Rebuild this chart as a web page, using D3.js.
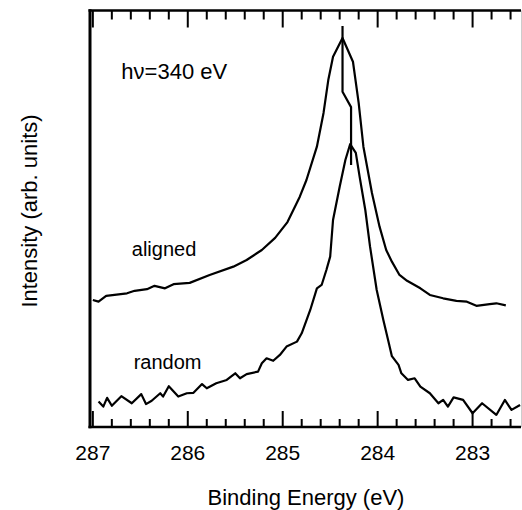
<!DOCTYPE html>
<html>
<head>
<meta charset="utf-8">
<script src="https://cdn.jsdelivr.net/npm/d3@7"></script>
<style>
  body { margin: 0; background: #fff; }
  svg { font-family: "Liberation Sans", Arial, Helvetica, sans-serif; }
</style>
</head>
<body>
<div id="chart"></div>
<script>
// DATA //
// binding energy (eV), intensity (arb. units, 0 = bottom axis, 100 = top axis)
const alignedEnergy = [287.00, 286.94, 286.86, 286.64, 286.56, 286.43, 286.35, 286.24, 286.15, 285.98,
    285.77, 285.52, 285.38, 285.22, 285.08, 284.95, 284.82, 284.75, 284.64, 284.57, 284.52, 284.47,
    284.37, 284.26, 284.20, 284.15, 284.06, 283.98, 283.91, 283.85, 283.77, 283.69, 283.55, 283.45,
    283.31, 283.17, 283.06, 282.96, 282.82, 282.75, 282.65]
const alignedIntensity = [30.5, 30.1, 31.5, 32.1, 32.7, 33.1, 33.9, 33.3, 34.3, 34.6,
    36.5, 38.5, 40.1, 42.5, 45.4, 49.2, 55.3, 59.3, 67.3, 75.4, 83.3, 88.9,
    93.4, 87.7, 77.8, 67.3, 56.2, 48.1, 42.5, 39.7, 36.5, 35.1, 33.3, 31.7,
    30.9, 30.3, 30.1, 29.1, 29.5, 29.7, 29.2]

const randomEnergy = [286.94, 286.89, 286.85, 286.80, 286.70, 286.59, 286.49, 286.44, 286.38, 286.29,
    286.26, 286.20, 286.10, 286.01, 285.94, 285.85, 285.80, 285.70, 285.59, 285.50, 285.45, 285.38,
    285.26, 285.22, 285.17, 285.10, 285.03, 284.96, 284.85, 284.80, 284.71, 284.64, 284.59, 284.54,
    284.50, 284.47, 284.40, 284.34, 284.29, 284.23, 284.19, 284.13, 284.08, 284.01, 283.94, 283.89,
    283.85, 283.78, 283.75, 283.68, 283.61, 283.55, 283.45, 283.36, 283.31, 283.26, 283.20, 283.10,
    283.00, 282.90, 282.75, 282.66, 282.59, 282.50]
const randomIntensity = [6.1, 4.9, 7.0, 5.1, 7.4, 5.7, 7.9, 5.5, 6.3, 8.1,
    7.3, 9.8, 7.3, 8.1, 8.2, 10.3, 9.3, 10.5, 11.3, 12.9, 11.7, 12.7,
    13.3, 15.3, 16.5, 15.9, 17.3, 19.3, 20.5, 22.5, 28.1, 33.3, 34.1, 37.7,
    40.9, 49.7, 57.7, 64.1, 67.9, 65.8, 60.1, 52.1, 43.3, 32.9, 25.7, 20.9,
    17.0, 14.9, 12.9, 11.3, 11.7, 9.7, 8.1, 5.7, 6.5, 4.9, 7.1, 6.5,
    3.3, 5.7, 2.9, 6.5, 4.1, 5.3]

// peak position marker (from aligned peak down to random peak)
const markerEnergy = [284.37, 284.37, 284.28, 284.28]
const markerIntensity = [96.3, 80.5, 76.8, 62.9]

const majorTicks = [287, 286, 285, 284, 283]
const minorTicks = [286.8, 286.6, 286.4, 286.2, 285.8, 285.6, 285.4, 285.2,
    284.8, 284.6, 284.4, 284.2, 283.8, 283.6, 283.4, 283.2, 282.8, 282.6]

const labels = [
    { text: "hν=340 eV", e: 286.7, i: 83.5, size: 22 },
    { text: "aligned", e: 286.59, i: 41.0, size: 20 },
    { text: "random", e: 286.57, i: 13.9, size: 20 },
]

// GLOBAL VARIABLES //
const width = 522
const height = 510

let dimensions = {
    width: width,
    height: height,
    margin: {
        top: 10.5,
        right: 1,
        bottom: 83,
        left: 90,
    },
}

// Create scales (svg coordinates)
const xScale = d3.scaleLinear()
    .domain([287.03, 282.49])
    .range([dimensions.margin.left, dimensions.width - dimensions.margin.right])

const yScale = d3.scaleLinear()
    .domain([0, 100])
    .range([dimensions.height - dimensions.margin.bottom, dimensions.margin.top])

const svg = d3.select("#chart")
    .append("svg")
    .attr("width", dimensions.width)
    .attr("height", dimensions.height)

const yBottom = yScale(0)
const yTop = yScale(100)

// frame
svg.append("rect")
    .attr("x", xScale.range()[0] - 1.5).attr("y", yTop - 1.25)
    .attr("width", xScale.range()[1] - xScale.range()[0] + 1.5).attr("height", 2.5)
    .attr("fill", "#000")
svg.append("rect")
    .attr("x", xScale.range()[0] - 1.5).attr("y", yBottom - 1.25)
    .attr("width", xScale.range()[1] - xScale.range()[0] + 1.5).attr("height", 2.5)
    .attr("fill", "#000")
svg.append("rect")
    .attr("x", xScale.range()[0] - 1.5).attr("y", yTop - 1.25)
    .attr("width", 3).attr("height", yBottom - yTop + 2.5)
    .attr("fill", "#000")
svg.append("rect")
    .attr("x", xScale.range()[1]).attr("y", yTop)
    .attr("width", 1).attr("height", yBottom - yTop)
    .attr("fill", "#ccc")

// inward marks on bottom and top edges
const markGroup = svg.append("g")
majorTicks.forEach(v => {
    markGroup.append("rect")
        .attr("x", xScale(v) - 1).attr("y", yBottom - 16)
        .attr("width", 2).attr("height", 16).attr("fill", "#000")
    markGroup.append("rect")
        .attr("x", xScale(v) - 1).attr("y", yTop)
        .attr("width", 2).attr("height", 17).attr("fill", "#000")
})
minorTicks.forEach(v => {
    markGroup.append("rect")
        .attr("x", xScale(v) - 1).attr("y", yBottom - 8)
        .attr("width", 2).attr("height", 8).attr("fill", "#000")
    markGroup.append("rect")
        .attr("x", xScale(v) - 1).attr("y", yTop)
        .attr("width", 2).attr("height", 9).attr("fill", "#000")
})

svg.selectAll(".xlab")
    .data(majorTicks)
    .join("text")
    .attr("class", "xlab")
    .attr("x", d => xScale(d))
    .attr("y", yBottom + 33)
    .attr("text-anchor", "middle")
    .style("font-size", "21px")
    .text(d => d3.format("d")(d))

// curves
const line = d3.line()
    .x(d => xScale(d[0]))
    .y(d => yScale(d[1]))

const alignedData = d3.zip(alignedEnergy, alignedIntensity)
const randomData = d3.zip(randomEnergy, randomIntensity)
const markerData = d3.zip(markerEnergy, markerIntensity)

svg.selectAll(".spectrum")
    .data([alignedData, randomData, markerData])
    .join("path")
    .attr("class", "spectrum")
    .attr("d", line)
    .attr("fill", "none")
    .attr("stroke", "#000")
    .attr("stroke-width", 2.2)
    .attr("stroke-linejoin", "round")

// labels
svg.selectAll(".label")
    .data(labels)
    .join("text")
    .attr("class", "label")
    .attr("x", d => xScale(d.e))
    .attr("y", d => yScale(d.i))
    .style("font-size", d => d.size + "px")
    .attr("fill", "#000")
    .text(d => d.text)

// axis titles
svg.append("text")
    .attr("x", 306)
    .attr("y", 505)
    .attr("text-anchor", "middle")
    .style("font-size", "22px")
    .text("Binding Energy (eV)")

svg.append("text")
    .attr("transform", "translate(37, 211) rotate(-90)")
    .attr("text-anchor", "middle")
    .style("font-size", "22px")
    .text("Intensity (arb. units)")
</script>
</body>
</html>
